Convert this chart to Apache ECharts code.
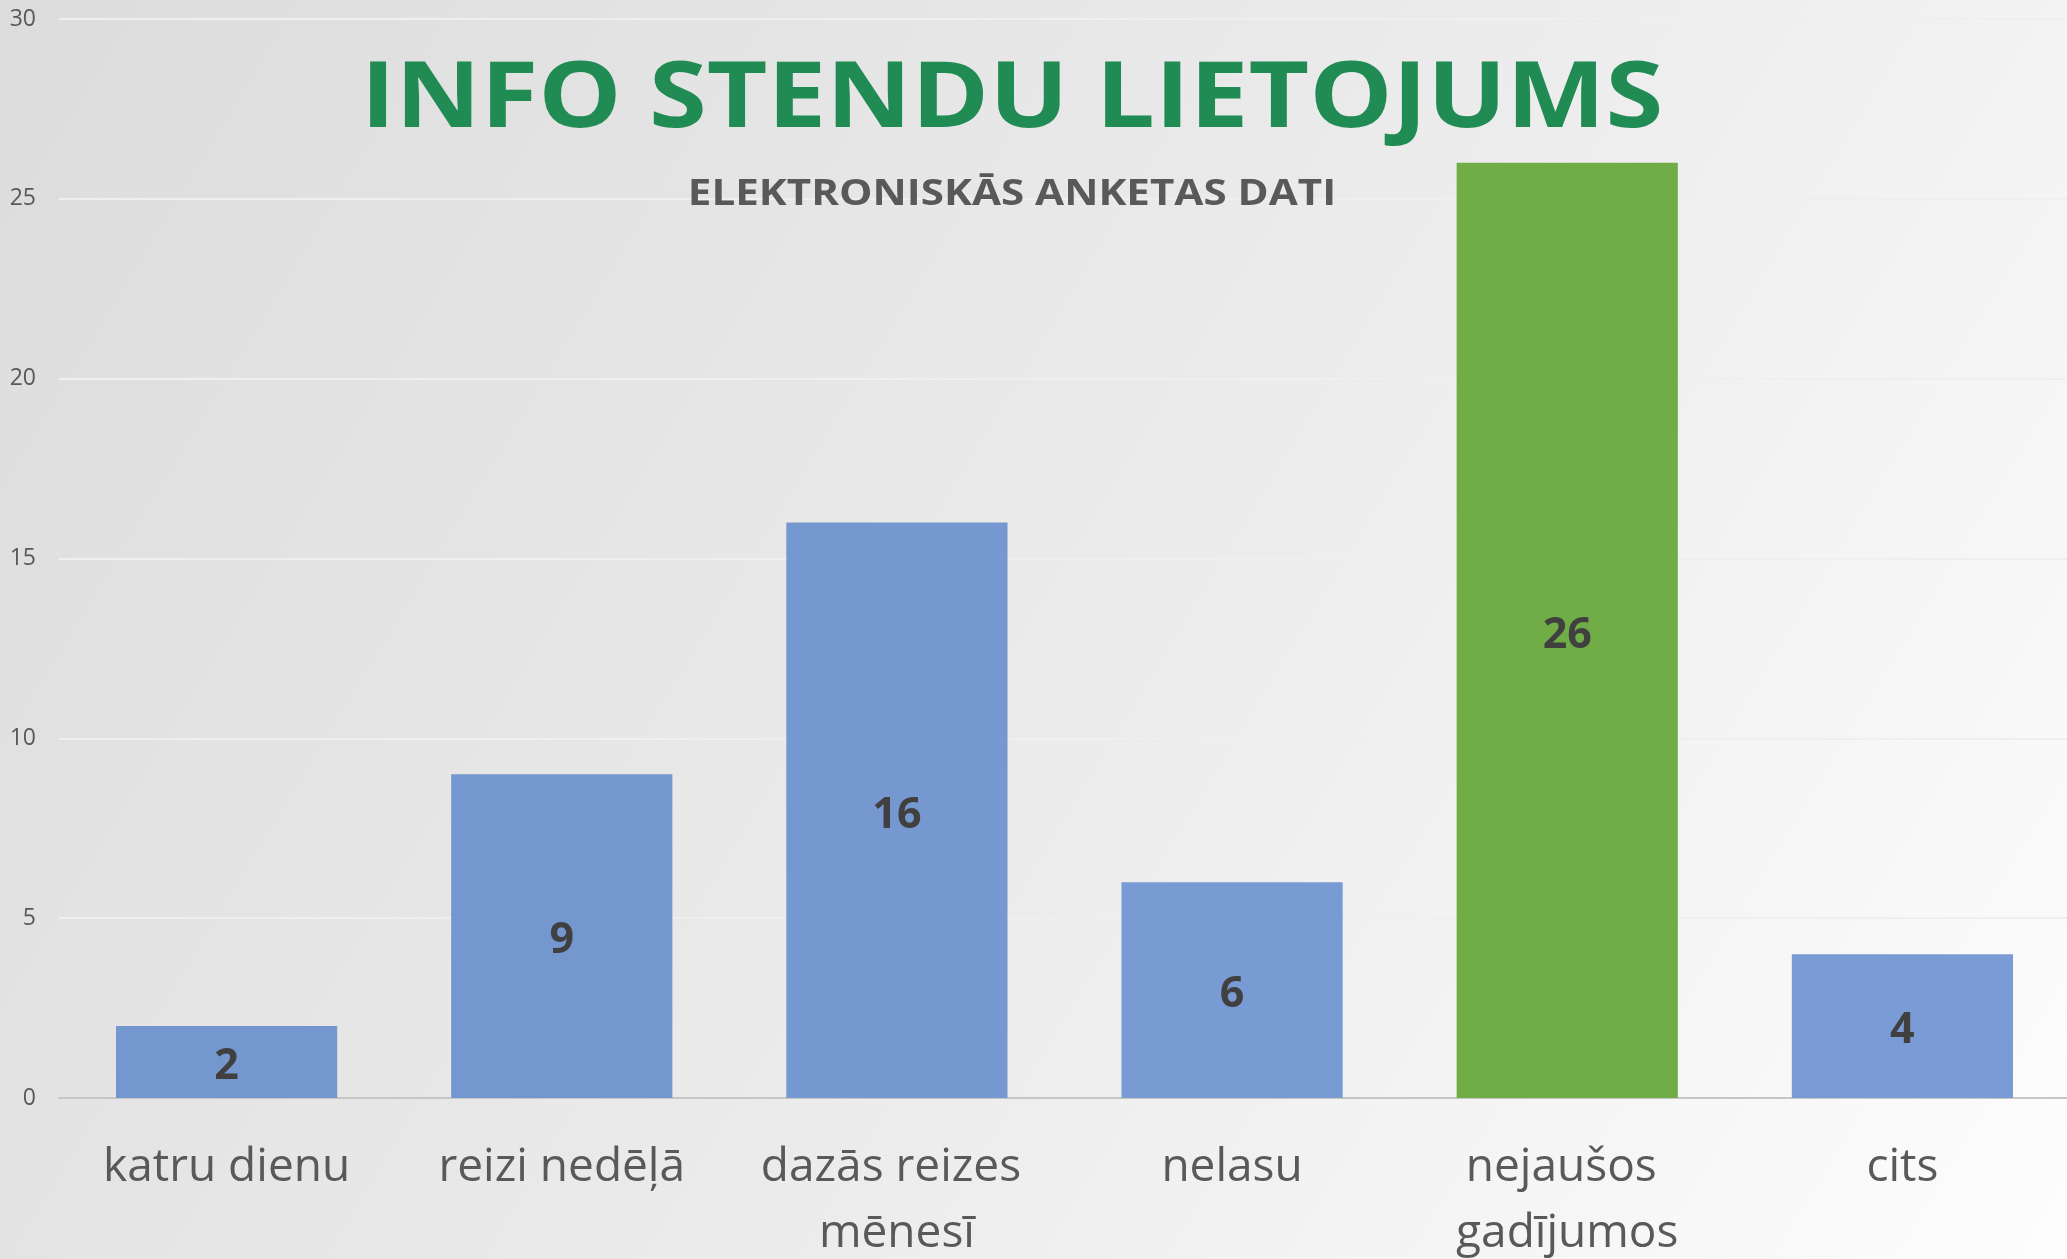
<!DOCTYPE html>
<html lang="lv">
<head>
  <meta charset="UTF-8">
  <title>Info stendu lietojums</title>
  <style>
    html, body { margin: 0; padding: 0; }
    #main { width: 2067px; height: 1259px; }
  </style>
</head>
<body>
  <div id="main"></div>
  <script src="https://cdn.jsdelivr.net/npm/echarts@6/dist/echarts.min.js"></script>
  <script>
    var categories = ['katru dienu', 'reizi nedēļā', 'dazās reizes mēnesī', 'nelasu', 'nejaušos gadījumos', 'cits'];
    var values = [2, 9, 16, 6, 26, 4];
    var barColors = ['#7497cf', '#7497cf', '#7698d0', '#799bd3', '#70ad47', '#7a9bd5'];
    var yTicks = [0, 5, 10, 15, 20, 25, 30];
    var titleText = 'INFO STENDU LIETOJUMS';
    var subtitleText = 'ELEKTRONISKĀS ANKETAS DATI';

    var myChart = echarts.init(document.getElementById('main'));

    var option = {
      backgroundColor: {
        type: 'linear', x: 0, y: 0, x2: 1, y2: 1,
        colorStops: [
          { offset: 0, color: '#dcdcdc' },
          { offset: 0.55, color: '#ececec' },
          { offset: 1, color: '#fdfdfd' }
        ]
      },
      // titles as graphic text so they can be widened like the original
      graphic: [{
        type: 'text', x: 1012, y: 55, scaleX: 1.14, z: 10,
        style: {
          text: titleText, textAlign: 'center', textVerticalAlign: 'top',
          font: 'bold 92px "Open Sans"', lineHeight: 92, fill: '#218b54'
        }
      }, {
        type: 'text', x: 1012, y: 177, scaleX: 1.17, z: 10,
        style: {
          text: subtitleText, textAlign: 'center', textVerticalAlign: 'top',
          font: 'bold 36px "Open Sans"', lineHeight: 36, fill: '#595959'
        }
      }],
      grid: { left: 59, right: -3, top: 19, bottom: 161, containLabel: false, outerBoundsMode: 'none' },
      xAxis: {
        type: 'category',
        data: categories,
        axisTick: { show: false },
        axisLine: { lineStyle: { color: '#c6c6c6', width: 2 } },
        axisLabel: {
          interval: 0, margin: 37, width: 340, overflow: 'break',
          fontFamily: 'Open Sans', fontSize: 46, lineHeight: 66, color: '#595959'
        }
      },
      yAxis: {
        type: 'value',
        min: yTicks[0], max: yTicks[yTicks.length - 1], interval: 5,
        axisLine: { show: false },
        axisTick: { show: false },
        splitLine: { lineStyle: { color: '#efefef', width: 2 } },
        axisLabel: { margin: 23, fontFamily: 'Open Sans', fontSize: 23, color: '#595959' }
      },
      series: [{
        type: 'bar',
        barCategoryGap: '34%',
        data: values.map(function (v, i) {
          return { value: v, itemStyle: { color: barColors[i] } };
        }),
        label: {
          show: true, position: 'inside', offset: [0, 5],
          fontFamily: 'Open Sans', fontWeight: 'bold', fontSize: 43, color: '#404040'
        }
      }]
    };
    myChart.setOption(option);
  </script>
</body>
</html>
